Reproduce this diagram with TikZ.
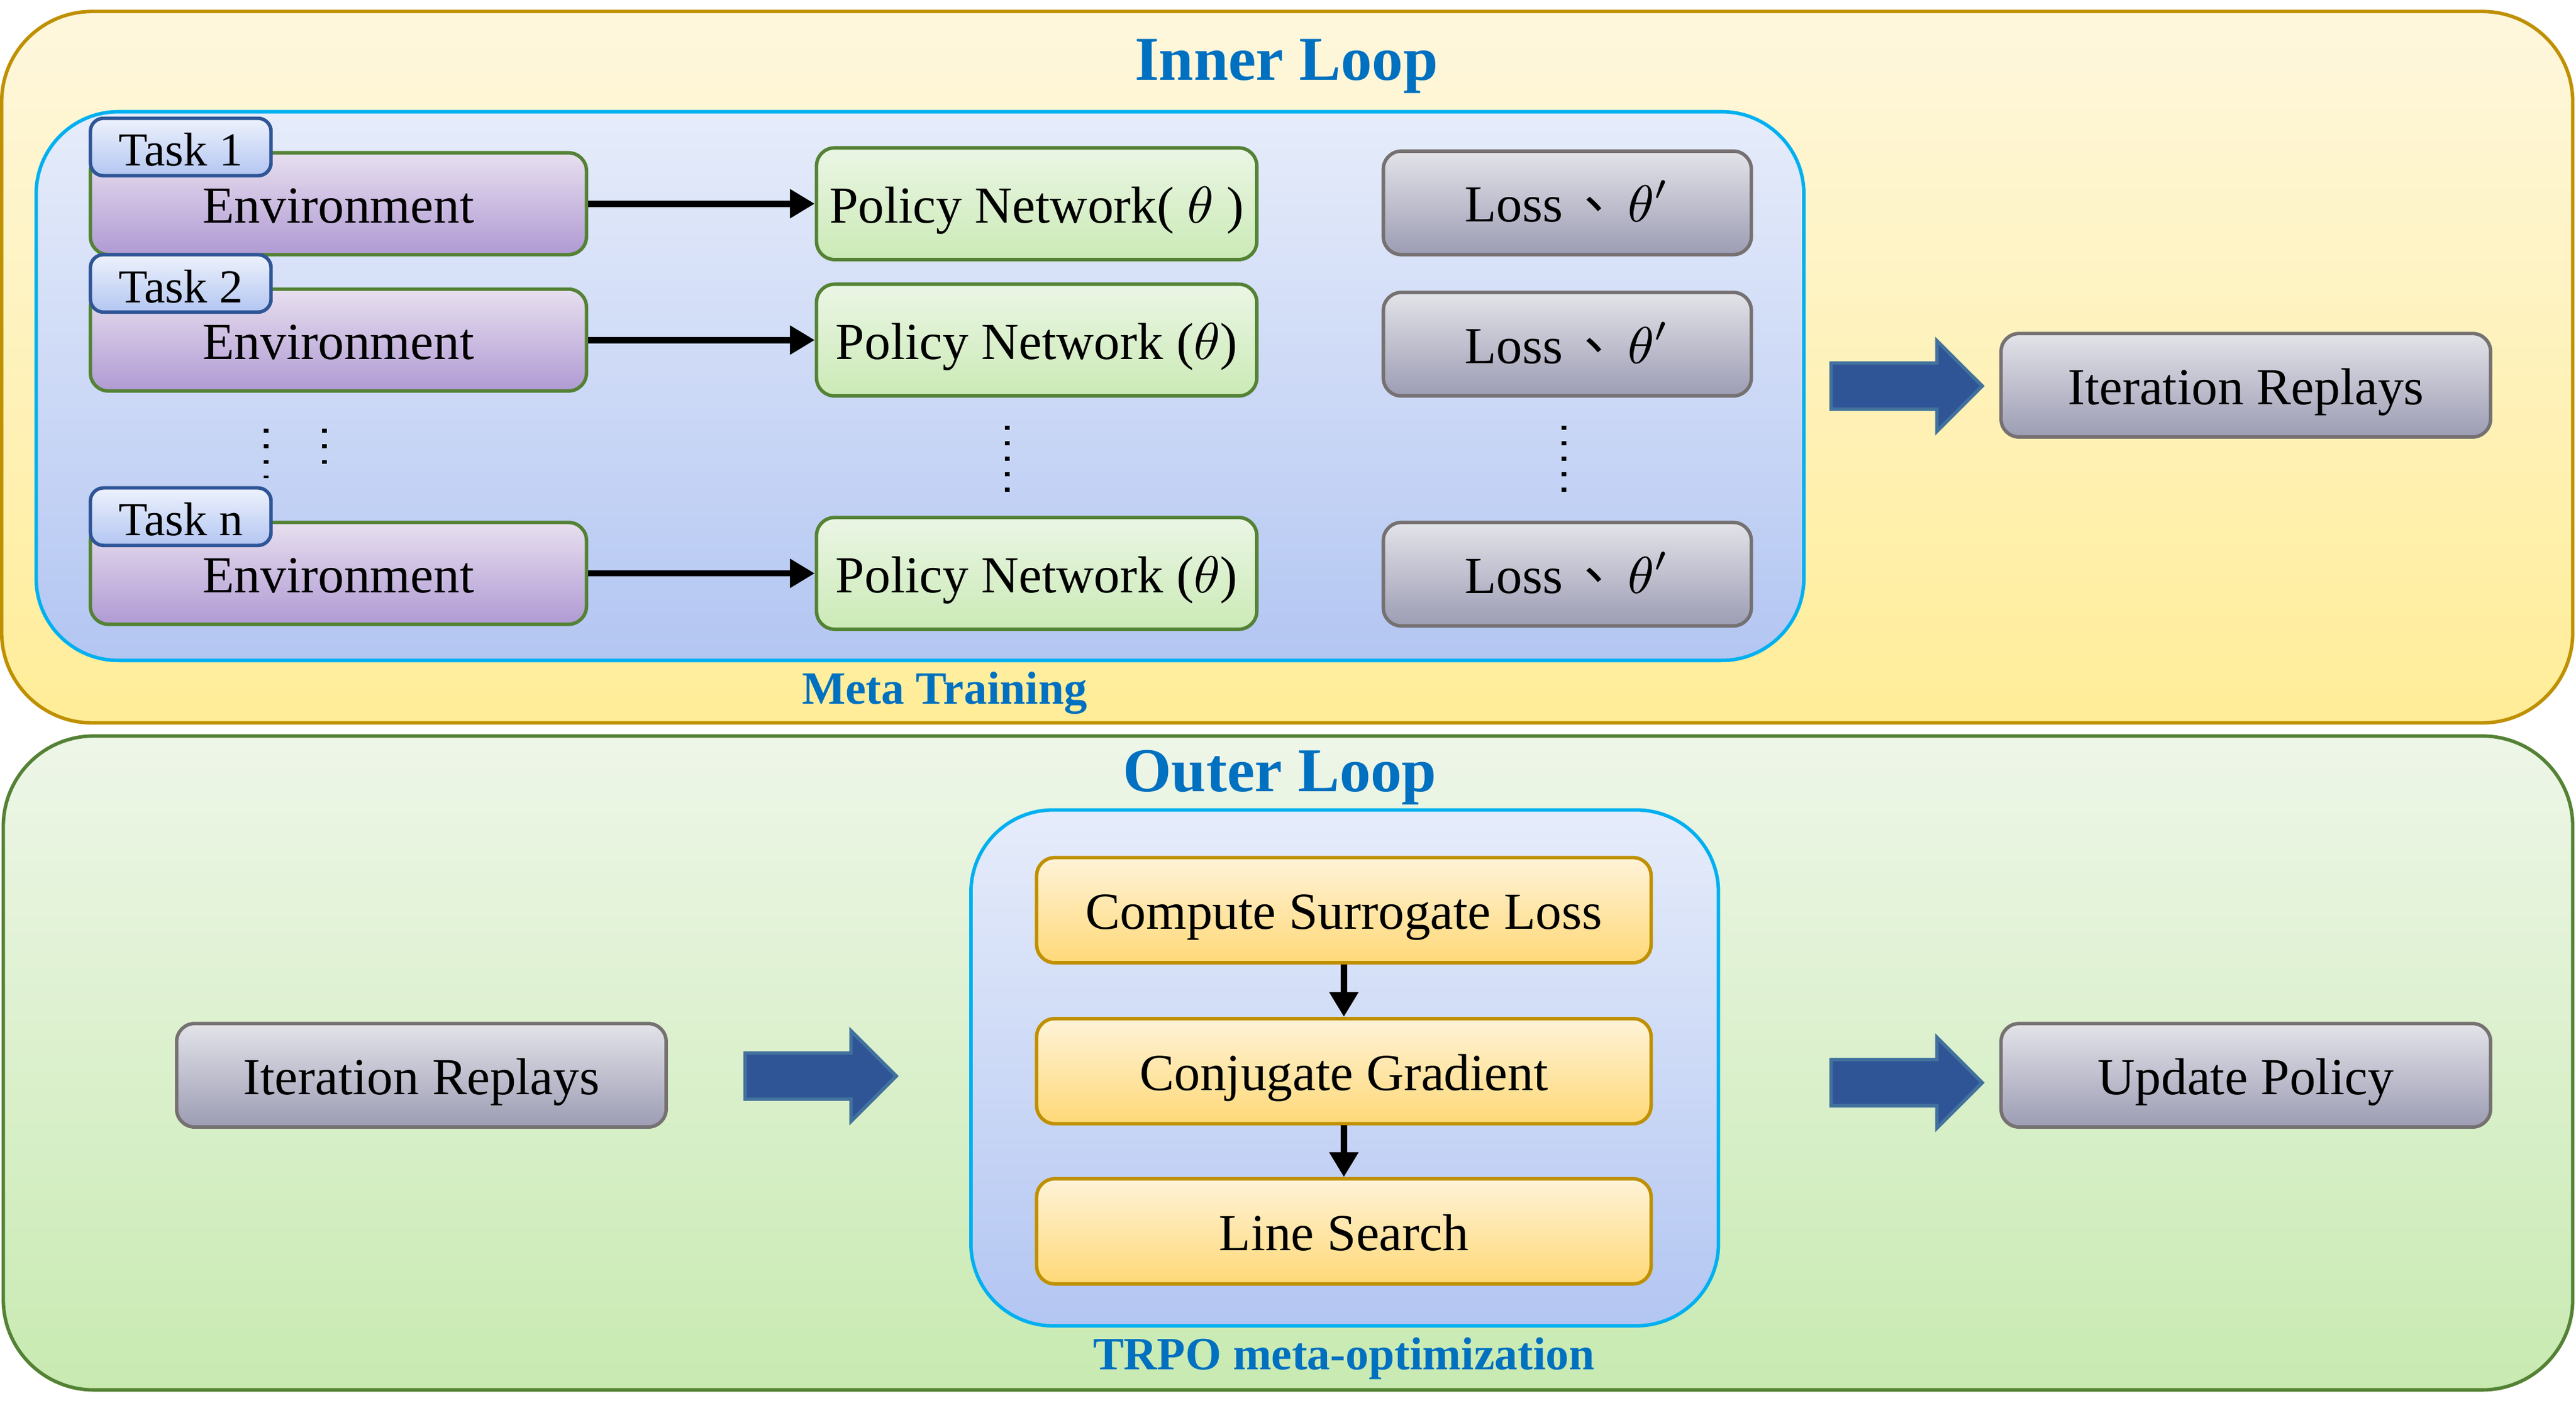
\documentclass[tikz,border=0pt]{standalone}
\usepackage{fontspec}
\setmainfont{Liberation Serif}
\newfontfamily\cjk{Noto Sans CJK SC}
\usetikzlibrary{arrows.meta,shapes.arrows}

\definecolor{yelTop}{HTML}{FEF7DD}
\definecolor{yelBot}{HTML}{FFED98}
\definecolor{yelLine}{HTML}{BF9000}
\definecolor{grnTop}{HTML}{EEF6E8}
\definecolor{grnBot}{HTML}{C8EAB1}
\definecolor{grnLine}{HTML}{548235}
\definecolor{bluTop}{HTML}{E6ECFA}
\definecolor{bluBot}{HTML}{B3C6F2}
\definecolor{bluLine}{HTML}{00B0F0}
\definecolor{envTop}{HTML}{E7DFEF}
\definecolor{envBot}{HTML}{B09AD3}
\definecolor{tabLine}{HTML}{2F5597}
\definecolor{polTop}{HTML}{EBF6E5}
\definecolor{polBot}{HTML}{CBEAB6}
\definecolor{gryTop}{HTML}{E3E3E9}
\definecolor{gryBot}{HTML}{9C9CB4}
\definecolor{gryLine}{HTML}{767171}
\definecolor{orgTop}{HTML}{FFF3D8}
\definecolor{orgBot}{HTML}{FFD978}
\definecolor{titleBlue}{HTML}{0070C0}
\definecolor{arrFill}{HTML}{2F5597}
\definecolor{arrLine}{HTML}{41719C}

\newcommand{\losstext}{Loss\hspace{0.4em}\raisebox{0.26em}{\cjk 、}\hspace{-0.15em}$\theta'$}

\begin{document}
\begin{tikzpicture}[
    every node/.style={font=\fontsize{9}{10}\selectfont},
    box/.style={rounded corners=0.11cm, line width=0.6pt, inner sep=0pt, text height=0.66em, text depth=0pt},
    envbox/.style={box, top color=envTop, bottom color=envBot, draw=grnLine, minimum width=3.02cm, minimum height=0.62cm},
    tabbox/.style={box, rounded corners=0.08cm, top color=bluTop!70!white, bottom color=bluBot, draw=tabLine,
        minimum width=1.10cm, minimum height=0.35cm, font=\fontsize{8.2}{9}\selectfont},
    polbox/.style={box, top color=polTop, bottom color=polBot, draw=grnLine, minimum width=2.68cm, minimum height=0.68cm},
    lossbox/.style={box, top color=gryTop, bottom color=gryBot, draw=gryLine, minimum width=2.24cm, minimum height=0.63cm},
    replaybox/.style={box, top color=gryTop, bottom color=gryBot, draw=gryLine, minimum width=2.98cm, minimum height=0.63cm},
    stepbox/.style={box, top color=orgTop, bottom color=orgBot, draw=yelLine, minimum width=3.74cm, minimum height=0.64cm},
    groupbox/.style={rounded corners=0.5cm, line width=0.6pt, inner sep=0pt, top color=bluTop, bottom color=bluBot, draw=bluLine},
    title/.style={font=\fontsize{10.8}{12}\selectfont\bfseries, text=titleBlue, text height=0.66em, text depth=0pt, inner sep=0pt},
    caption/.style={font=\fontsize{8}{9}\selectfont\bfseries, text=titleBlue, text height=0.66em, text depth=0pt, inner sep=0pt},
    link/.style={line width=1.1pt, -{Triangle[length=4.3pt, width=4.8pt]}},
    bigarrow/.style={single arrow, single arrow head extend=0.135cm, single arrow head indent=0pt,
        minimum height=0.92cm, inner xsep=0pt, inner ysep=0.13cm, text height=0pt, text depth=0pt,
        fill=arrFill, draw=arrLine, line width=0.6pt, anchor=tail},
    dots/.style={line width=0.85pt, dash pattern=on 0.7pt off 2pt}
]
    \useasboundingbox (0,0) rectangle (15.68,8.57);

    % Inner loop background
    \node[rounded corners=0.55cm, line width=0.6pt, top color=yelTop, bottom color=yelBot, draw=yelLine,
        minimum width=15.65cm, minimum height=4.33cm, inner sep=0pt] (inner) at (7.835,6.335) {};
    \node[title] (innerTitle) at (7.83,8.20) {Inner Loop};

    % Meta training group
    \node[groupbox, minimum width=10.76cm, minimum height=3.34cm] (meta) at (5.60,6.22) {};
    \node[caption] (metaLabel) at (5.75,4.40) {Meta Training};

    % Tasks and environments
    \node[envbox] (env1) at (2.06,7.33) {Environment};
    \node[envbox] (env2) at (2.06,6.50) {Environment};
    \node[envbox] (env3) at (2.06,5.08) {Environment};
    \node[tabbox] (task1) at (1.10,7.675) {Task 1};
    \node[tabbox] (task2) at (1.10,6.845) {Task 2};
    \node[tabbox] (task3) at (1.10,5.425) {Task n};

    % Policy networks
    \node[polbox] (pol1) at (6.31,7.33) {Policy Network( $\theta$ )};
    \node[polbox] (pol2) at (6.31,6.50) {Policy Network ($\theta$)};
    \node[polbox] (pol3) at (6.31,5.08) {Policy Network ($\theta$)};

    % Losses
    \node[lossbox] (loss1) at (9.54,7.335) {\losstext};
    \node[lossbox] (loss2) at (9.54,6.475) {\losstext};
    \node[lossbox] (loss3) at (9.54,5.075) {\losstext};

    \draw[link] (env1) -- (pol1);
    \draw[link] (env2) -- (pol2);
    \draw[link] (env3) -- (pol3);

    % Vertical dots
    \draw[dots] (1.62,5.96) -- (1.62,5.66);
    \draw[dots] (1.975,5.96) -- (1.975,5.74);
    \draw[dots] (6.13,5.98) -- (6.13,5.57);
    \draw[dots] (9.52,5.98) -- (9.52,5.57);

    % Result of inner loop
    \node[bigarrow] (arrInner) at (11.135,6.22) {};
    \node[replaybox] (replay1) at (13.67,6.225) {Iteration Replays};

    % Outer loop background
    \node[rounded corners=0.55cm, line width=0.6pt, top color=grnTop, bottom color=grnBot, draw=grnLine,
        minimum width=15.64cm, minimum height=3.98cm, inner sep=0pt] (outer) at (7.84,2.10) {};
    \node[title] (outerTitle) at (7.79,3.87) {Outer Loop};

    % TRPO group
    \node[groupbox, minimum width=4.55cm, minimum height=3.14cm] (trpo) at (8.185,2.07) {};
    \node[caption] (trpoLabel) at (8.18,0.35) {TRPO meta-optimization};

    \node[stepbox] (surr) at (8.18,3.03) {Compute Surrogate Loss};
    \node[stepbox] (cg) at (8.18,2.05) {Conjugate Gradient};
    \node[stepbox] (ls) at (8.18,1.075) {Line Search};
    \draw[link] (surr) -- (cg);
    \draw[link] (cg) -- (ls);

    % Input and output
    \node[replaybox] (replay2) at (2.565,2.025) {Iteration Replays};
    \node[bigarrow] (arrIn) at (4.525,2.02) {};
    \node[bigarrow] (arrOut) at (11.135,1.98) {};
    \node[replaybox] (update) at (13.67,2.025) {Update Policy};
\end{tikzpicture}
\end{document}
